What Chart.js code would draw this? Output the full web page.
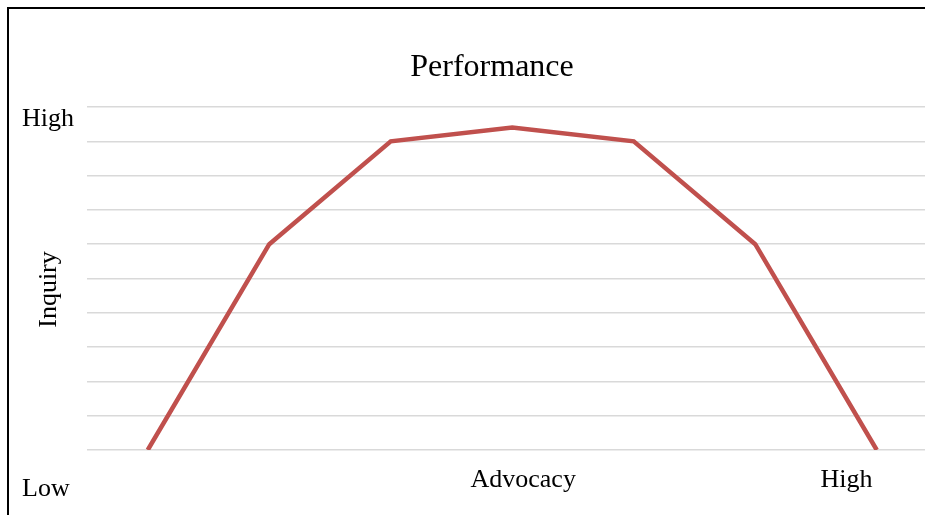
<!DOCTYPE html>
<html>
<head>
<meta charset="utf-8">
<script src="https://cdn.jsdelivr.net/npm/chart.js@4"></script>
<style>
  html, body { margin: 0; padding: 0; overflow: hidden; background: #fff; }
  #wrap { position: relative; width: 950px; height: 515px; }
  #frame { position: absolute; left: 7px; top: 7px; width: 1000px; height: 1000px;
           border-left: 2px solid #000; border-top: 2px solid #000; }
  canvas { position: absolute; left: 0; top: 0; }
</style>
</head>
<body>
<div id="wrap">
  <div id="frame"></div>
  <canvas id="c" width="950" height="515"></canvas>
</div>
<script>
// ---- data ----
const categories = ['1', '2', '3', '4', '5', '6', '7'];
const performance = [0, 6, 9, 9.4, 9, 6, 0];
const yRange = [0, 10];
const chartTitle = 'Performance';
const yAxisTitle = 'Inquiry';
const yEndLabels = ['Low', 'High'];
const xLabels = ['Advocacy', 'High'];
const xLabelPositions = [3.09, 5.75]; // in category-index units

const FONT = '"Liberation Serif", "Times New Roman", serif';

const textPlugin = {
  id: 'textLabels',
  afterDraw(chart) {
    const ctx = chart.ctx;
    const xs = chart.scales.x;
    const area = chart.chartArea;
    ctx.save();
    ctx.fillStyle = '#000';
    ctx.textBaseline = 'alphabetic';
    // title
    ctx.font = '32px ' + FONT;
    ctx.textAlign = 'center';
    ctx.fillText(chartTitle, 492, area.top - 31);
    ctx.font = '26px ' + FONT;
    // left end labels
    ctx.textAlign = 'left';
    ctx.fillText(yEndLabels[1], 22, area.top + 19);
    ctx.fillText(yEndLabels[0], 22, area.bottom + 46);
    // x labels
    ctx.textAlign = 'center';
    xLabels.forEach((t, i) => {
      ctx.fillText(t, xs.getPixelForValue(xLabelPositions[i]), area.bottom + 37);
    });
    // y axis title
    ctx.translate(56, (area.top + area.bottom) / 2 + 11);
    ctx.rotate(-Math.PI / 2);
    ctx.textAlign = 'center';
    ctx.fillText(yAxisTitle, 0, 0);
    ctx.restore();
  }
};

new Chart(document.getElementById('c'), {
  type: 'line',
  data: {
    labels: categories,
    datasets: [{
      data: performance,
      borderColor: '#c0504d',
      borderWidth: 4.5,
      pointRadius: 0,
      tension: 0,
      fill: false
    }]
  },
  options: {
    responsive: false,
    animation: false,
    layout: { padding: { left: 87, right: 12.5, top: 107, bottom: 65 } },
    plugins: {
      legend: { display: false },
      tooltip: { enabled: false },
      title: { display: false }
    },
    scales: {
      x: {
        offset: true,
        grid: { display: false, drawTicks: false },
        border: { display: false },
        ticks: { display: false }
      },
      y: {
        min: yRange[0],
        max: yRange[1],
        grid: { color: '#d9d9d9', lineWidth: 1.5, drawTicks: false },
        border: { display: false },
        ticks: { display: false, stepSize: 1 }
      }
    }
  },
  plugins: [textPlugin]
});
</script>
</body>
</html>
